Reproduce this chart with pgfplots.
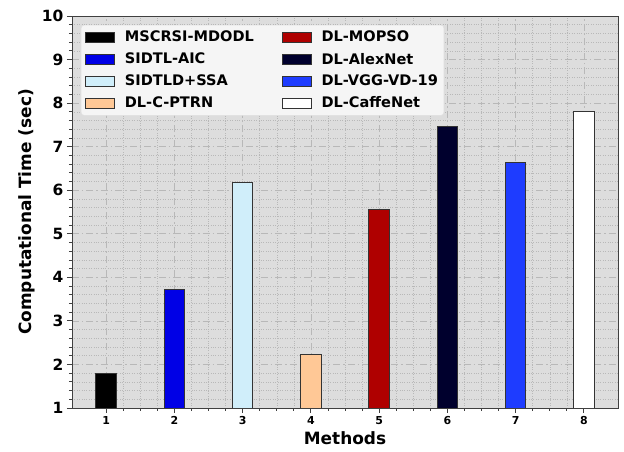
\documentclass[border=0pt]{standalone}
\usepackage{pgfplots}
\pgfplotsset{compat=1.18}
\usepackage{fontspec}
\setmainfont{DejaVu Sans}
\definecolor{c1}{RGB}{0,0,0}
\definecolor{c2}{RGB}{0,0,230}
\definecolor{c3}{RGB}{208,238,250}
\definecolor{c4}{RGB}{255,200,150}
\definecolor{c5}{RGB}{175,0,0}
\definecolor{c6}{RGB}{0,0,45}
\definecolor{c7}{RGB}{30,60,255}
\definecolor{c8}{RGB}{255,255,255}
\definecolor{bg}{RGB}{221,221,221}
\definecolor{lg}{RGB}{245,245,245}
\begin{document}
\begin{tikzpicture}
\begin{axis}[
  scale only axis, width=546bp, height=392bp,
  xmin=0.5, xmax=8.5, ymin=1, ymax=10,
  xtick={1,...,8}, ytick={1,...,10},
  minor x tick num=3, minor y tick num=4,
  grid=both,
  major grid style={black!28, dash pattern=on 7bp off 3bp on 1.5bp off 3bp, line width=0.6bp},
  minor grid style={black!28, dotted, line width=0.5bp},
  axis background/.style={fill=bg},
  axis line style={black!75, line width=0.8bp},
  tick align=outside, xtick pos=bottom, ytick pos=left,
  major tick length=5bp, minor tick length=3bp,
  tick style={black!75, line width=0.8bp},
  /pgf/number format/assume math mode=true,
  xticklabel style={font=\bfseries\fontsize{11}{12}\selectfont},
  yticklabel style={font=\bfseries\fontsize{15.5}{16}\selectfont},
  xlabel={Methods}, ylabel={Computational Time (sec)},
  label style={font=\bfseries\fontsize{17}{18}\selectfont},
  mybar/.style={ybar, bar width=0.3, bar shift=0pt, draw=black!80, line width=0.9bp,
    legend image code/.code={\draw[##1, sharp corners, line width=0.7bp] (0bp,-5bp) rectangle (29bp,5bp);}},
  legend columns=2,
  legend cell align=left,
  legend style={at={(0.0165,0.977)}, anchor=north west, fill=lg,
    draw=black!12, rounded corners=3bp, font=\bfseries\fontsize{14.6}{16}\selectfont,
    row sep=5.5bp, inner xsep=4bp, inner ysep=4bp,
    /tikz/every odd column/.append style={column sep=8bp},
    /tikz/every even column/.append style={column sep=26bp}},
]
\addplot[mybar, fill=c1] coordinates {(1,1.80)};
\addlegendentry{MSCRSI-MDODL}
\addplot[mybar, fill=c5] coordinates {(5,5.56)};
\addlegendentry{DL-MOPSO}
\addplot[mybar, fill=c2] coordinates {(2,3.73)};
\addlegendentry{SIDTL-AIC}
\addplot[mybar, fill=c6] coordinates {(6,7.47)};
\addlegendentry{DL-AlexNet}
\addplot[mybar, fill=c3] coordinates {(3,6.18)};
\addlegendentry{SIDTLD+SSA}
\addplot[mybar, fill=c7] coordinates {(7,6.64)};
\addlegendentry{DL-VGG-VD-19}
\addplot[mybar, fill=c4] coordinates {(4,2.22)};
\addlegendentry{DL-C-PTRN}
\addplot[mybar, fill=c8] coordinates {(8,7.81)};
\addlegendentry{DL-CaffeNet}
\end{axis}
\path ([xshift=-72bp,yshift=-44bp]current axis.south west) rectangle ([xshift=6bp,yshift=16bp]current axis.north east);
\end{tikzpicture}
\end{document}
